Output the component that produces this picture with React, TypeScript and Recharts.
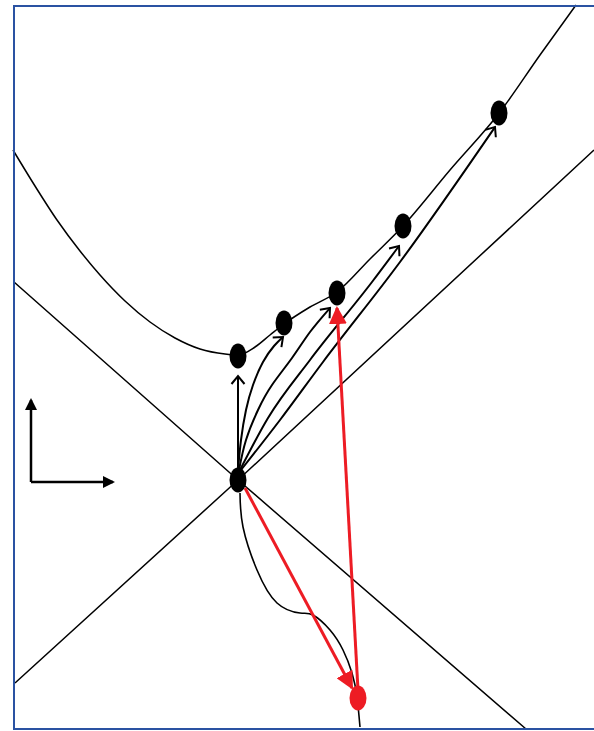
import React from 'react';
import { ComposedChart, Line, Scatter, XAxis, YAxis } from 'recharts';

// space (x) and time (t) in the diagram's own units, origin at the event O
const hyperbola = [
  { x: -225, t: 330 }, { x: -203, t: 294 }, { x: -181, t: 260 }, { x: -158, t: 229 },
  { x: -138, t: 205 }, { x: -113, t: 179 }, { x: -88, t: 158 }, { x: -63, t: 142 },
  { x: -38, t: 131 }, { x: -13, t: 126 }, { x: 0, t: 125 }, { x: 17, t: 133 },
  { x: 32, t: 145 }, { x: 46, t: 156 }, { x: 72, t: 173 }, { x: 99, t: 188 },
  { x: 132, t: 221 }, { x: 165, t: 254 }, { x: 212, t: 310 }, { x: 262, t: 368 },
  { x: 302, t: 425 }, { x: 338, t: 475 },
];

const lightConeA = [{ x: -224, t: 198 }, { x: 0, t: 0 }, { x: 288, t: -249 }];
const lightConeB = [{ x: -223, t: -203 }, { x: 0, t: 0 }, { x: 356, t: 330 }];

const worldline1 = [{ x: 0, t: 10 }, { x: 0, t: 104 }];
const worldline2 = [
  { x: 0, t: 10 }, { x: 3, t: 40 }, { x: 8, t: 70 }, { x: 15, t: 95 },
  { x: 25, t: 118 }, { x: 36, t: 134 }, { x: 45, t: 143 },
];
const worldline3 = [
  { x: 1, t: 10 }, { x: 8, t: 40 }, { x: 20, t: 70 }, { x: 34, t: 95 },
  { x: 54, t: 122 }, { x: 72, t: 148 }, { x: 92, t: 172 },
];
const worldline4 = [
  { x: 2, t: 10 }, { x: 30, t: 62 }, { x: 72, t: 120 }, { x: 134, t: 198 }, { x: 161, t: 234 },
];
const worldline5 = [
  { x: 3, t: 10 }, { x: 42, t: 60 }, { x: 85, t: 118 }, { x: 162, t: 218 }, { x: 257, t: 353 },
];
const pastPath = [
  { x: 2, t: -13 }, { x: 5, t: -47 }, { x: 19, t: -90 }, { x: 39, t: -123 },
  { x: 62, t: -133 }, { x: 75, t: -135 }, { x: 92, t: -150 }, { x: 105, t: -170 },
  { x: 114, t: -193 }, { x: 119, t: -217 }, { x: 122, t: -247 },
];

const redOut = [{ x: 7, t: -8 }, { x: 114, t: -208 }];
const redBack = [{ x: 120, t: -210 }, { x: 99, t: 172 }];

const axisUp = [{ x: -207, t: -2 }, { x: -207, t: 80 }];
const axisRight = [{ x: -207, t: -2 }, { x: -125, t: -2 }];

const blackEvents = [
  { x: 0, t: 0 }, { x: 0, t: 124 }, { x: 46, t: 157 }, { x: 99, t: 187 },
  { x: 165, t: 254 }, { x: 261, t: 367 },
];
const redEvents = [{ x: 120, t: -218 }];

const Ellipse = (color: string) => (props: any) => (
  <ellipse cx={props.cx} cy={props.cy} rx={8.5} ry={12.5} fill={color} />
);

export default function App() {
  const line = (data: any[], stroke: string, width: number, marker?: string, type: any = 'monotoneX') => (
    <Line
      data={data}
      dataKey="t"
      type={type}
      stroke={stroke}
      strokeWidth={width}
      dot={false}
      activeDot={false}
      isAnimationActive={false}
      markerEnd={marker ? `url(#${marker})` : undefined}
    />
  );

  return (
    <div style={{ position: 'relative', width: 594, height: 731, background: '#fff' }}>
      <style>{'body{margin:0}'}</style>
      <ComposedChart width={594} height={731} margin={{ top: 0, right: 0, bottom: 0, left: 0 }}>
        <defs>
          <marker id="openArrow" viewBox="0 0 16 16" refX={14} refY={8} markerWidth={16} markerHeight={16}
            markerUnits="userSpaceOnUse" orient="auto">
            <path d="M6,1.5 L14,8 L6,14.5" fill="none" stroke="#000" strokeWidth={2} />
          </marker>
          <marker id="redArrow" viewBox="0 0 18 18" refX={16} refY={9} markerWidth={18} markerHeight={18}
            markerUnits="userSpaceOnUse" orient="auto">
            <path d="M0,0 L18,9 L0,18 z" fill="#ed1c24" />
          </marker>
          <marker id="blackArrow" viewBox="0 0 12 12" refX={10} refY={6} markerWidth={12} markerHeight={12}
            markerUnits="userSpaceOnUse" orient="auto">
            <path d="M0,0 L12,6 L0,12 z" fill="#000" />
          </marker>
        </defs>
        <XAxis type="number" dataKey="x" domain={[-238, 356]} allowDataOverflow hide />
        <YAxis type="number" dataKey="t" domain={[-251, 480]} allowDataOverflow hide />
        {line(hyperbola, '#000', 1.5, undefined, 'monotoneX')}
        {line(lightConeA, '#000', 1.5, undefined, 'linear')}
        {line(lightConeB, '#000', 1.5, undefined, 'linear')}
        {line(pastPath, '#000', 1.6, undefined, 'natural')}
        {line(worldline1, '#000', 2, 'openArrow', 'linear')}
        {line(worldline2, '#000', 2, 'openArrow', 'natural')}
        {line(worldline3, '#000', 2, 'openArrow', 'natural')}
        {line(worldline4, '#000', 2, 'openArrow', 'monotoneX')}
        {line(worldline5, '#000', 2, 'openArrow', 'monotoneX')}
        {line(redOut, '#ed1c24', 3, 'redArrow', 'linear')}
        {line(redBack, '#ed1c24', 3, 'redArrow', 'linear')}
        {line(axisUp, '#000', 2.5, 'blackArrow', 'linear')}
        {line(axisRight, '#000', 2.5, 'blackArrow', 'linear')}
        <Scatter data={blackEvents} dataKey="t" shape={Ellipse('#000')} isAnimationActive={false} />
        <Scatter data={redEvents} dataKey="t" shape={Ellipse('#ed1c24')} isAnimationActive={false} />
      </ComposedChart>
      <div
        style={{
          position: 'absolute', left: 13, top: 5, width: 600, height: 725, boxSizing: 'border-box',
          borderLeft: '2px solid #2a52a2', borderTop: '2px solid #2a52a2', borderBottom: '2px solid #2a52a2',
          pointerEvents: 'none',
        }}
      />
    </div>
  );
}
